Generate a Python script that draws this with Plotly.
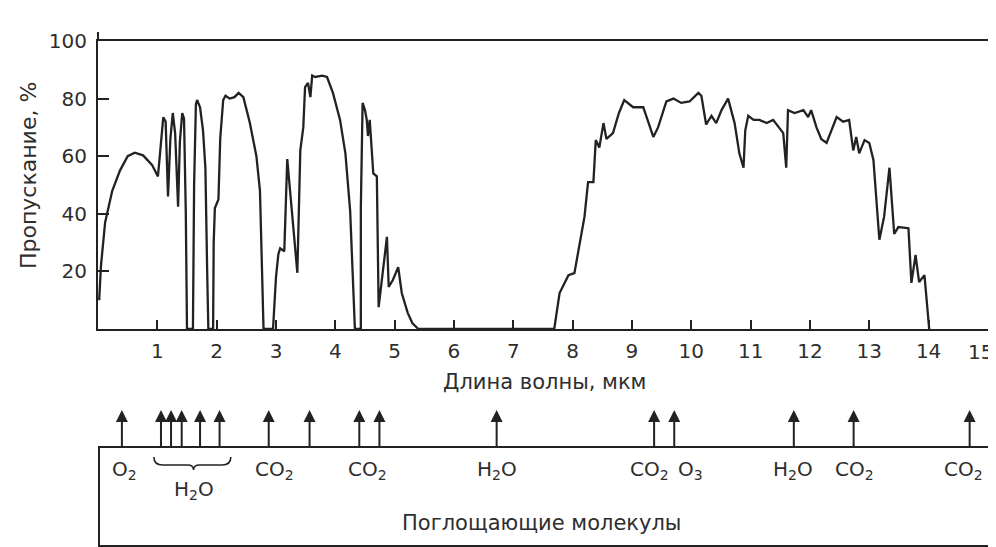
import plotly.graph_objects as go

# ---------------- data ----------------
wavelength = [0.02, 0.05, 0.12, 0.24, 0.37, 0.50, 0.62, 0.76, 0.91, 1.01,
              1.05, 1.10, 1.14, 1.18, 1.22, 1.26, 1.30, 1.35, 1.38, 1.42, 1.45, 1.48, 1.50,
              1.60, 1.62, 1.65, 1.67, 1.72, 1.77, 1.81, 1.84, 1.86,
              1.94, 1.95, 1.97, 2.03, 2.06, 2.11, 2.15, 2.22, 2.30, 2.37, 2.45, 2.56, 2.67, 2.73, 2.79,
              2.95, 3.00, 3.04, 3.07, 3.14, 3.19, 3.27, 3.36, 3.41, 3.46, 3.49, 3.54, 3.58, 3.61,
              3.66, 3.78, 3.86, 3.96, 4.08, 4.17, 4.25, 4.30, 4.33,
              4.43, 4.43, 4.46, 4.50, 4.53, 4.55, 4.58, 4.64, 4.70, 4.73, 4.79, 4.87, 4.90, 4.97,
              5.06, 5.12, 5.22, 5.30, 5.40,
              7.69, 7.78, 7.93, 8.03, 8.11, 8.20, 8.26, 8.35, 8.39, 8.45, 8.52, 8.57, 8.68, 8.78,
              8.87, 9.02, 9.19, 9.36, 9.44, 9.58, 9.70, 9.83, 9.97, 10.12, 10.17, 10.25, 10.34,
              10.42, 10.51, 10.62, 10.73, 10.81, 10.88, 10.91, 10.96, 11.05, 11.15, 11.27, 11.38,
              11.55, 11.60, 11.63, 11.74, 11.89, 11.97, 12.02, 12.11, 12.19, 12.28, 12.45, 12.56,
              12.66, 12.73, 12.78, 12.83, 12.92, 13.00, 13.07, 13.17, 13.25, 13.34, 13.42, 13.49,
              13.66, 13.71, 13.78, 13.84, 13.93, 14.01]
transmission = [10, 22, 37, 48, 55, 60, 61.2, 60.3, 57, 53,
                62, 73.5, 72, 46, 66, 75, 68, 42.5, 65, 75, 73, 40, 0,
                0, 50, 78, 79.5, 77, 69, 56, 20, 0,
                0, 30, 42, 45, 66, 79.5, 81, 80, 80.5, 82, 80.5, 71.5, 60, 48, 0,
                0, 18, 26, 28, 27, 59, 40, 19.5, 62, 70, 84, 85.4, 80.5, 88,
                87.5, 88, 87.5, 82, 72.6, 61, 41, 18, 0,
                0, 42, 78.5, 76, 72.6, 67, 72.6, 54, 53, 7.6, 18, 32, 14.6, 17,
                21.5, 12.5, 5.6, 2, 0,
                0, 12.5, 18.7, 19.4, 28.5, 39, 51, 51, 65.6, 63, 71.5, 66, 68, 75,
                79.5, 77, 77, 66.7, 70, 79, 80, 78.5, 79, 82, 81, 71, 74,
                71.5, 76, 80, 71.5, 61, 56, 69, 74, 72.6, 72.6, 71.5, 72.6,
                68, 56, 76, 75, 76, 73.6, 76, 70, 66, 64.6, 73.6, 72,
                72.6, 62, 66.7, 61, 65.6, 64.6, 58.7, 31, 39, 56, 33, 35.4,
                35, 16, 25.7, 16.3, 18.7, 0]

x_ticks = list(range(1, 16))
x_tick_labels = [str(v) for v in range(1, 15)] + [""]
last_x_label = "15"
y_ticks = [20, 40, 60, 80, 100]

arrow_positions = [0.37, 1.03, 1.20, 1.38, 1.69, 2.02, 2.85, 3.54, 4.38, 4.72,
                   6.70, 9.36, 9.70, 11.72, 12.73, 14.69]
molecule_labels = ["O<sub>2</sub>", "CO<sub>2</sub>", "CO<sub>2</sub>", "H<sub>2</sub>O",
                   "CO<sub>2</sub>", "O<sub>3</sub>", "H<sub>2</sub>O", "CO<sub>2</sub>",
                   "CO<sub>2</sub>"]
molecule_label_x = [0.42, 2.95, 4.52, 6.70, 9.29, 9.98, 11.70, 12.75, 14.59]
h2o_group_label = "H<sub>2</sub>O"
h2o_group_x = 1.58
box_caption = "Поглощающие молекулы"
y_title = "Пропускание, %"
x_title = "Длина волны, мкм"

# ---------------- style ----------------
FONT = "DejaVu Sans, sans-serif"
TXT = "#2e2e2e"
LINE = "#222222"
OFF = 8                      # page body margin offset
VW, VH = 996, 547            # viewport
W, H = VW - OFF, VH - OFF    # figure size
# plot area in viewport pixels
PL, PR, PT, PB = 98, 988, 41, 545
ML, MR, MT, MB = PL - OFF, W - (PR - OFF), PT - OFF, H - (PB - OFF)
PW = PR - PL
PH = PB - PT


def px_x(px):
    return (px - PL) / PW


def px_y(py):
    return (PB - py) / PH


main_bottom = px_y(329)
box_top = px_y(448)
box_h = 545 - 448


def box_y(py):
    return (545 - py) / box_h


fig = go.Figure()
fig.add_trace(go.Scatter(x=wavelength, y=transmission, mode="lines",
                         line=dict(color=LINE, width=2.3), hoverinfo="skip",
                         showlegend=False, xaxis="x", yaxis="y"))

# invisible trace for the molecule box axes
fig.add_trace(go.Scatter(x=[0, 15], y=[0, 1], mode="markers", marker=dict(opacity=0),
                         showlegend=False, hoverinfo="skip", xaxis="x2", yaxis="y2"))

LABEL_FONT = dict(family=FONT, size=20, color=TXT)
TICK_FONT = dict(family=FONT, size=20, color=TXT)
annotations = []
tip = box_y(410)
for xa in arrow_positions:
    annotations.append(dict(x=xa, y=tip, ax=xa, ay=1.0, xref="x2", yref="y2",
                            axref="x2", ayref="y2", text="", showarrow=True,
                            arrowhead=2, arrowsize=1.2, arrowwidth=2, arrowcolor=LINE))
for lab, xl in zip(molecule_labels, molecule_label_x):
    annotations.append(dict(x=xl, y=box_y(470), xref="x2", yref="y2",
                            xanchor="center", yanchor="middle",
                            text=lab, showarrow=False, font=LABEL_FONT))
annotations.append(dict(x=h2o_group_x, y=box_y(490), xref="x2", yref="y2",
                        xanchor="center", yanchor="middle",
                        text=h2o_group_label, showarrow=False, font=LABEL_FONT))
annotations.append(dict(x=7.45, y=box_y(523), xref="x2", yref="y2",
                        xanchor="center", yanchor="middle",
                        text=box_caption, showarrow=False,
                        font=dict(family=FONT, size=21, color=TXT)))
# last x tick label, kept inside the page edge
annotations.append(dict(x=px_x(995), y=px_y(352), xref="paper", yref="paper",
                        xanchor="right", yanchor="middle", text=last_x_label,
                        showarrow=False, font=TICK_FONT))
# axis titles
annotations.append(dict(x=px_x(28), y=px_y(176), xref="paper", yref="paper",
                        xanchor="center", yanchor="middle",
                        text=y_title, textangle=-90, showarrow=False,
                        font=dict(family=FONT, size=22, color=TXT)))
annotations.append(dict(x=px_x(544), y=px_y(382), xref="paper", yref="paper",
                        xanchor="center", yanchor="middle",
                        text=x_title, showarrow=False,
                        font=dict(family=FONT, size=21, color=TXT)))

# brace under grouped H2O arrows
b0, b1, bm = 0.91, 2.21, 1.58
ye, yf, yc = box_y(457), box_y(465), box_y(470)
brace = (f"M {b0},{ye} Q {b0},{yf} {b0+0.15},{yf} L {bm-0.1},{yf} "
         f"Q {bm},{yf} {bm},{yc} Q {bm},{yf} {bm+0.1},{yf} "
         f"L {b1-0.15},{yf} Q {b1},{yf} {b1},{ye}")

shapes = [
    dict(type="line", xref="paper", yref="paper", x0=0, x1=0, y0=px_y(41), y1=px_y(32),
         line=dict(color=LINE, width=2)),
    dict(type="path", xref="x2", yref="y2", path=brace, line=dict(color=LINE, width=1.6)),
]

fig.update_layout(
    width=W, height=H,
    margin=dict(l=ML, r=MR, t=MT, b=MB, autoexpand=False),
    paper_bgcolor="white", plot_bgcolor="white",
    font=dict(family=FONT, color=TXT, size=20),
    showlegend=False,
    xaxis=dict(range=[0, 15.001], tickvals=x_ticks, ticktext=x_tick_labels,
               ticks="inside", ticklen=9, tickwidth=2,
               tickcolor=LINE, showline=True, linecolor=LINE, linewidth=2, mirror=True,
               showgrid=False, zeroline=False, anchor="y",
               automargin=False, tickfont=TICK_FONT, ticklabelstandoff=3),
    yaxis=dict(range=[0, 100], tickvals=y_ticks, ticks="inside", ticklen=11, tickwidth=2,
               tickcolor=LINE, showline=True, linecolor=LINE, linewidth=2, mirror=True,
               showgrid=False, zeroline=False, domain=[main_bottom, 1], anchor="x",
               automargin=False, tickfont=TICK_FONT, ticklabelstandoff=5),
    xaxis2=dict(range=[0, 15], showticklabels=False, ticks="", showline=True,
                linecolor=LINE, linewidth=2, mirror=True, showgrid=False,
                zeroline=False, anchor="y2", domain=[px_x(100), 1], automargin=False),
    yaxis2=dict(range=[0, 1], showticklabels=False, ticks="", showline=True,
                linecolor=LINE, linewidth=2, mirror=True, showgrid=False,
                zeroline=False, anchor="x2", domain=[0, box_top], automargin=False),
    annotations=annotations,
    shapes=shapes,
)

fig.write_html("out.html")
